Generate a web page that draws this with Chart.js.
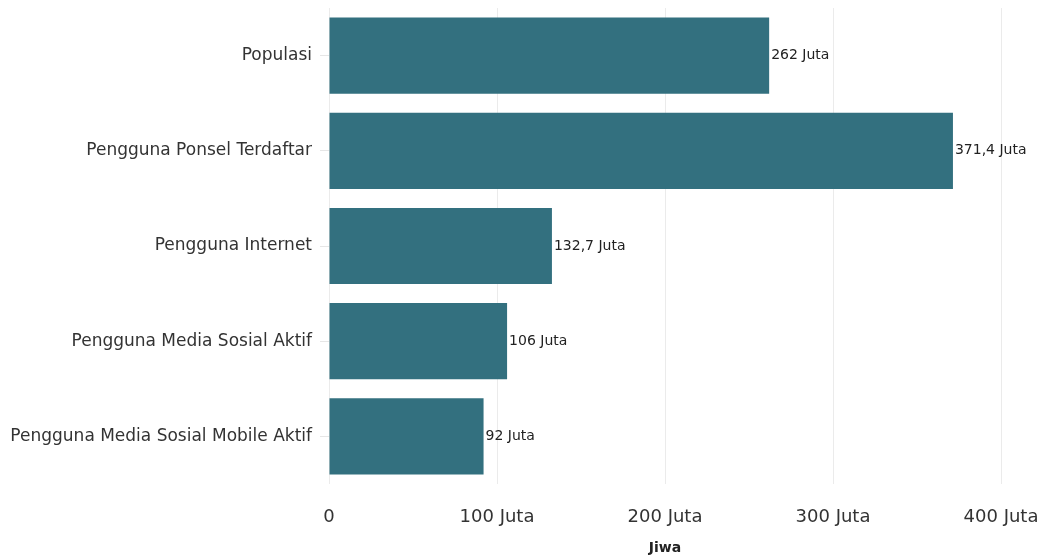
<!DOCTYPE html>
<html>
<head>
<meta charset="utf-8">
<script src="https://cdn.jsdelivr.net/npm/chart.js@4/dist/chart.umd.min.js"></script>
<style>
  html, body { margin: 0; padding: 0; background: #fff; }
  #wrap { width: 1041px; height: 557px; }
</style>
</head>
<body>
<div id="wrap"><canvas id="chart"></canvas></div>
<script>
// data (million people)
const categories = [
    'Populasi',
    'Pengguna Ponsel Terdaftar',
    'Pengguna Internet',
    'Pengguna Media Sosial Aktif',
    'Pengguna Media Sosial Mobile Aktif'
];
const values = [262, 371.4, 132.7, 106, 92];
const valueLabels = ['262 Juta', '371,4 Juta', '132,7 Juta', '106 Juta', '92 Juta'];
const xTicks = [0, 100, 200, 300, 400];

const FONT = "'DejaVu Sans', Verdana, sans-serif";

// writes the value text just past the end of each bar
const barLabels = {
    id: 'barLabels',
    afterDatasetsDraw(chart) {
        const ctx = chart.ctx;
        const meta = chart.getDatasetMeta(0);
        ctx.save();
        ctx.font = "14px " + FONT;
        ctx.fillStyle = '#222';
        ctx.textAlign = 'left';
        ctx.textBaseline = 'middle';
        meta.data.forEach((bar, i) => {
            ctx.fillText(valueLabels[i], bar.x + 2, bar.y);
        });
        ctx.restore();
    }
};

new Chart(document.getElementById('chart'), {
    type: 'bar',
    data: {
        labels: categories,
        datasets: [{
            data: values,
            backgroundColor: '#33707f',
            barPercentage: 0.8,
            categoryPercentage: 1.0
        }]
    },
    options: {
        indexAxis: 'y',
        responsive: true,
        maintainAspectRatio: false,
        animation: false,
        layout: { padding: { top: 8, right: 40, left: 0, bottom: 0 } },
        plugins: {
            legend: { display: false },
            tooltip: { enabled: false }
        },
        scales: {
            x: {
                min: 0,
                max: 400,
                afterBuildTicks: (scale) => { scale.ticks = xTicks.map(v => ({ value: v })); },
                afterFit: (scale) => {
                    scale.height = 73;
                    scale.paddingLeft = 0;
                    scale.paddingRight = 0;
                },
                grid: { color: '#ebebeb', drawTicks: false },
                border: { display: false },
                ticks: {
                    padding: 23,
                    color: '#333',
                    font: { family: FONT, size: 18 },
                    callback: (v) => v === 0 ? '0' : v + ' Juta'
                },
                title: {
                    display: true,
                    text: 'Jiwa',
                    color: '#222',
                    font: { family: FONT, size: 14, weight: 'bold' },
                    padding: { top: 3, bottom: 0 }
                }
            },
            y: {
                afterFit: (scale) => {
                    scale.width = 329;
                    scale.paddingTop = 0;
                    scale.paddingBottom = 0;
                },
                grid: { drawOnChartArea: false, offset: false, color: '#e6e6e6', tickLength: 9 },
                border: { display: false },
                ticks: {
                    padding: 8,
                    color: '#333',
                    font: { family: FONT, size: 17 }
                }
            }
        }
    },
    plugins: [barLabels]
});
</script>
</body>
</html>
